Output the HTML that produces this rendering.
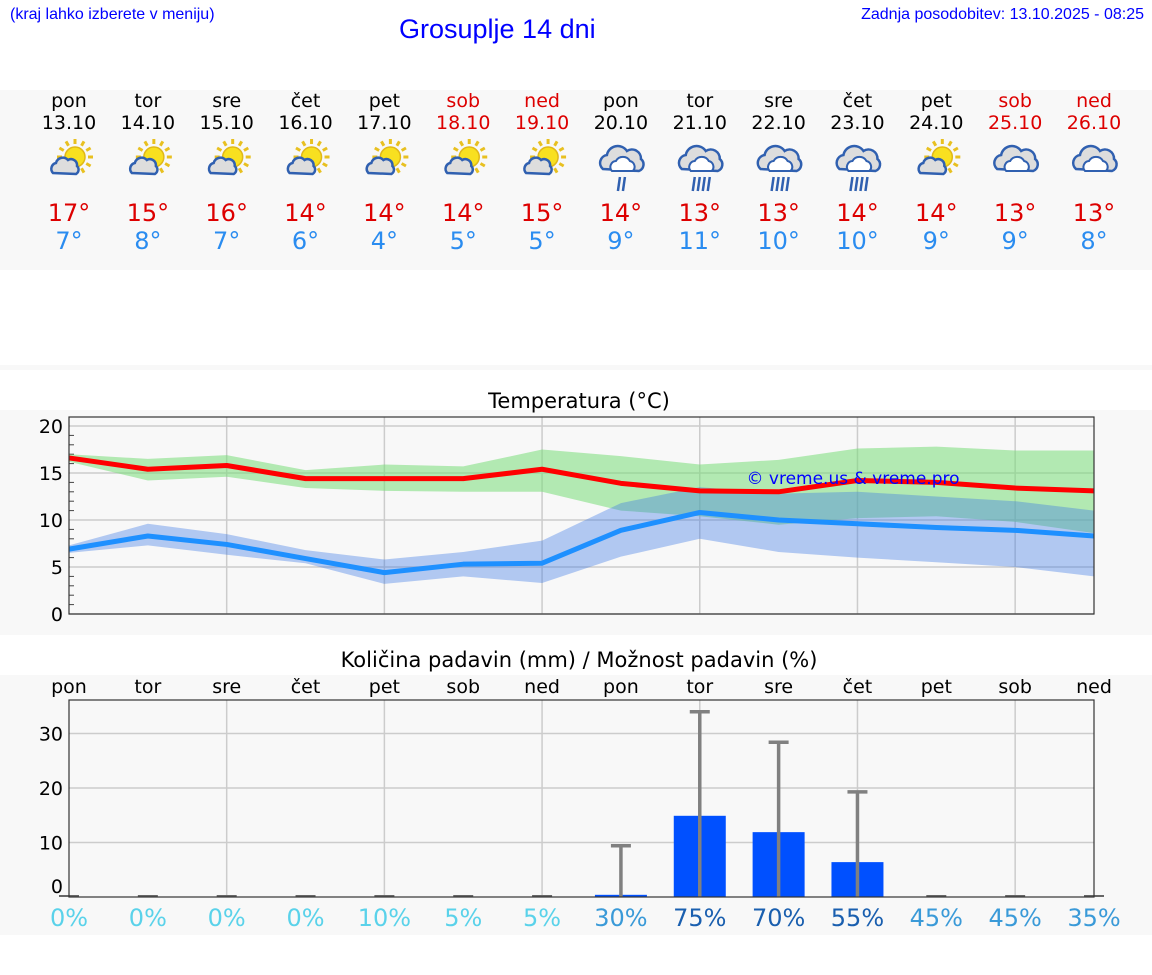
<!DOCTYPE html>
<html><head><meta charset="utf-8">
<style>
body{margin:0;width:1152px;height:975px;background:#fff;font-family:"DejaVu Sans","Liberation Sans",sans-serif;overflow:hidden;position:relative}
.t{position:absolute;white-space:nowrap}
</style></head>
<body>
<div class="t" style="left:10px;top:6px;font-size:16px;color:#00f;font-family:'Liberation Sans',sans-serif">(kraj lahko izberete v meniju)</div>
<div class="t" style="left:399px;top:14px;font-size:27px;color:#00f;font-family:'Liberation Sans',sans-serif">Grosuplje 14 dni</div>
<div class="t" style="right:8px;top:6px;font-size:16px;color:#00f;font-family:'Liberation Sans',sans-serif">Zadnja posodobitev: 13.10.2025 - 08:25</div>
<svg id="svg" width="1152" height="975" style="position:absolute;left:0;top:0"></svg>
<script>
const days=["pon","tor","sre","čet","pet","sob","ned","pon","tor","sre","čet","pet","sob","ned"];
const dates=["13.10","14.10","15.10","16.10","17.10","18.10","19.10","20.10","21.10","22.10","23.10","24.10","25.10","26.10"];
const icons=["sun","sun","sun","sun","sun","sun","sun","rain2","rain4","rain4","rain4","sun","cloud","cloud"];
const tmax=[16.6,15.4,15.8,14.4,14.4,14.4,15.4,13.9,13.1,13.0,14.2,14.0,13.4,13.1];
const tmin=[6.9,8.3,7.4,5.9,4.4,5.3,5.4,8.9,10.8,10.0,9.6,9.2,8.9,8.3];
const maxHi=[17.0,16.5,16.9,15.3,15.9,15.7,17.5,16.8,15.9,16.4,17.6,17.8,17.4,17.4];
const maxLo=[16.2,14.2,14.6,13.4,13.1,13.0,13.0,11.0,10.4,9.5,10.2,10.4,9.8,8.6];
const minHi=[7.3,9.6,8.5,6.8,5.8,6.6,7.8,11.8,13.5,12.8,13.0,12.5,12.0,11.0];
const minLo=[6.5,7.3,6.3,5.4,3.2,4.0,3.3,6.1,8.0,6.6,6.0,5.5,5.0,4.0];
const rain=[0,0,0,0,0,0,0,0.4,14.9,11.9,6.4,0,0,0];
const rainHi=[0,0,0,0,0,0,0,9.4,34,28.4,19.3,0,0,0];
const chance=[0,0,0,0,10,5,5,30,75,70,55,45,45,35];
const tTicks=[0,5,10,15,20];
const rTicks=[0,10,20,30];

const S=document.getElementById('svg');const NS="http://www.w3.org/2000/svg";
function el(tag,at,parent){const e=document.createElementNS(NS,tag);for(const k in at)e.setAttribute(k,at[k]);(parent||S).appendChild(e);return e;}
function tx(x,y,s,size,fill,anchor){const e=el('text',{x:x,y:y,'font-size':size,fill:fill,'text-anchor':anchor||'middle','font-family':'DejaVu Sans, Liberation Sans, sans-serif'});e.textContent=s;return e;}
const X=i=>69+i*(1094-69)/13;
const TY=v=>614-v*9.4;
const RY=v=>897-v*5.45;

let p,t;
p=el('rect',{x:0,y:90,width:1152,height:180,fill:'#f8f8f8'});
el('rect',{x:0,y:365,width:1152,height:5,fill:'#f8f8f8'});
p=el('rect',{x:0,y:410,width:1152,height:225,fill:'#f8f8f8'});
p=el('rect',{x:0,y:675,width:1152,height:260,fill:'#f8f8f8'});

function icon(kind,cx,cy){
  const g=el('g',{});
  
  if(kind==='sun'){
    for(let a=0;a<12;a++){const r=a*Math.PI/6;el('line',{x1:cx+6+Math.cos(r)*13,y1:cy-6+Math.sin(r)*13,x2:cx+6+Math.cos(r)*18,y2:cy-6+Math.sin(r)*18,stroke:'#e8c020','stroke-width':3},g);}
    el('circle',{cx:cx+6,cy:cy-6,r:10,fill:'#f8e020',stroke:'#e0b818','stroke-width':1.5},g);
    el('path',{d:`M${cx-16},${cy+10} a6,6 0 0 1 3,-10 a7,7 0 0 1 12,-3 a6,6 0 0 1 9,6 a5,5 0 0 1 -1,8 z`,fill:'#ddd',stroke:'#3060b0','stroke-width':2.5},g);
  } else {
    el('path',{d:`M${cx-18},${cy+6} a8,8 0 0 1 4,-14 a11,11 0 0 1 20,-4 a9,9 0 0 1 14,8 a7,7 0 0 1 -2,12 z`,fill:'#ddd',stroke:'#3060b0','stroke-width':2.5},g);
    el('path',{d:`M${cx-9},${cy+8} a6,6 0 0 1 4,-10 a8,8 0 0 1 14,0 a6,6 0 0 1 3,10 z`,fill:'#fff',stroke:'#3060b0','stroke-width':2},g);
    const n=kind==='rain2'?2:kind==='rain4'?4:0;
    for(let k=0;k<n;k++){const x0=cx-7+k*5+(n===2?4:0);el('line',{x1:x0+2,y1:cy+14,x2:x0,y2:cy+28,stroke:'#3060b0','stroke-width':2.5},g);}
  }
}
for(let i=0;i<14;i++){
  const wk=(i===5||i===6||i===12||i===13);
  const c=wk?'#d00':'#000';
  t=tx(X(i),107,days[i],19,c);
  t=tx(X(i),129,dates[i],19,c);
  icon(icons[i],X(i),163);
  t=tx(X(i),221,Math.round(tmax[i])+'°',24,'#d00');
  t=tx(X(i),249,Math.round(tmin[i])+'°',24,'#2a8cf0');
}

t=tx(579,408,'Temperatura (°C)',21,'#000');
el('rect',{x:69,y:417,width:1025,height:197,fill:'#f8f8f8'});
tTicks.forEach(v=>{el('line',{x1:69,x2:1094,y1:TY(v),y2:TY(v),stroke:'#ccc','stroke-width':1.5});
  const l=tx(63,TY(v)+7,v,19,'#000','end');});
for(let v=1;v<21;v++){if(v%5)el('line',{x1:69,x2:74,y1:TY(v),y2:TY(v),stroke:'#444','stroke-width':1});}
for(let i=2;i<13;i+=2)el('line',{x1:X(i),x2:X(i),y1:417,y2:614,stroke:'#ccc','stroke-width':1.5});
function band(hi,lo,fill,name){let d='M';for(let i=0;i<14;i++)d+=X(i)+','+TY(hi[i])+' L';for(let i=13;i>=0;i--)d+=X(i)+','+TY(lo[i])+(i?' L':' Z');const b=el('path',{d:d,fill:fill});}
band(maxHi,maxLo,'rgba(120,220,120,0.55)','max-temp-band');
band(minHi,minLo,'rgba(60,120,230,0.38)','min-temp-band');
function line(v,c,name){const l=el('polyline',{points:v.map((y,i)=>X(i)+','+TY(y)).join(' '),fill:'none',stroke:c,'stroke-width':5,'stroke-linejoin':'round'});}
line(tmax,'#f00','max-temp-line');line(tmin,'#1e90ff','min-temp-line');
el('rect',{x:69,y:417,width:1025,height:197,fill:'none',stroke:'#333','stroke-width':1.2});
t=tx(853,484,'© vreme.us & vreme.pro',17,'#00f');

t=tx(579,667,'Količina padavin (mm) / Možnost padavin (%)',21,'#000');
for(let i=0;i<14;i++){const l=tx(X(i),693,days[i],19,'#000');}
el('rect',{x:69,y:700,width:1025,height:197,fill:'#f8f8f8'});
rTicks.forEach(v=>{if(v)el('line',{x1:69,x2:1094,y1:RY(v),y2:RY(v),stroke:'#ccc','stroke-width':1.5});
  const l=tx(63,RY(v)+(v?7:-4),v,19,'#000','end');});
for(let i=2;i<13;i+=2)el('line',{x1:X(i),x2:X(i),y1:700,y2:897,stroke:'#ccc','stroke-width':1.5});
for(let i=0;i<14;i++){
  if(rain[i]>0){const b=el('rect',{x:X(i)-26,y:RY(rain[i]),width:52,height:RY(0)-RY(rain[i]),fill:'#0050ff'});}
  if(rainHi[i]>0){const g=el('g',{stroke:'#808080','stroke-width':3.5});
    el('line',{x1:X(i),x2:X(i),y1:RY(0),y2:RY(rainHi[i])},g);el('line',{x1:X(i)-10,x2:X(i)+10,y1:RY(rainHi[i]),y2:RY(rainHi[i])},g);}
  else el('line',{x1:X(i)-10,x2:X(i)+10,y1:896,y2:896,stroke:'#666','stroke-width':2});
  const c=chance[i]>=55?'#1a5faf':chance[i]>=30?'#3a9ad8':'#5ad2ea';
  const l=tx(X(i),926,chance[i]+'%',24,c);
}
el('rect',{x:69,y:700,width:1025,height:197,fill:'none',stroke:'#333','stroke-width':1.2});
</script>
</body></html>
